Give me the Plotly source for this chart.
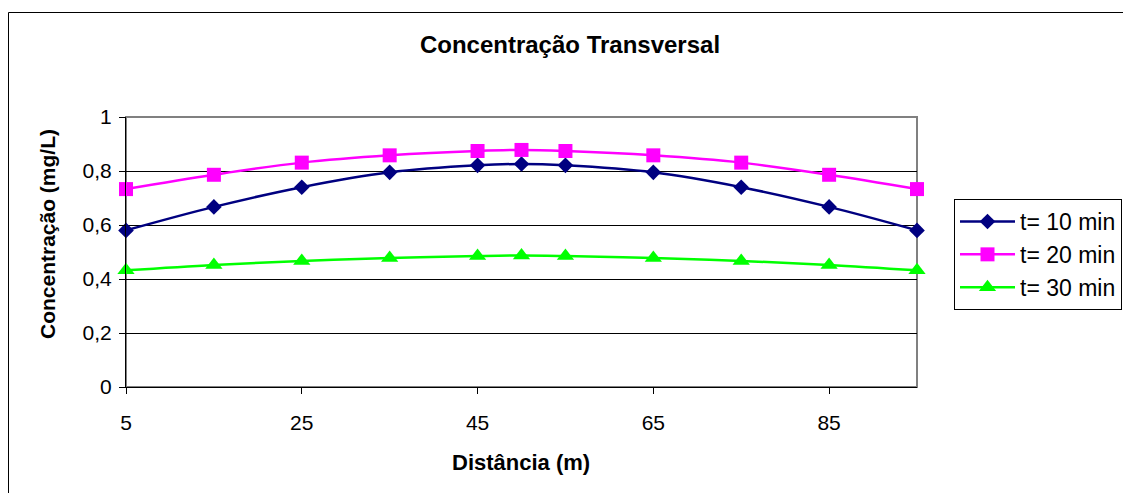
import plotly.graph_objects as go

# ---- data ----
distancia = [5, 15, 25, 35, 45, 50, 55, 65, 75, 85, 95]
t10 = [0.580, 0.667, 0.740, 0.795, 0.821, 0.826, 0.821, 0.795, 0.740, 0.667, 0.580]
t20 = [0.733, 0.786, 0.831, 0.858, 0.874, 0.878, 0.874, 0.858, 0.831, 0.786, 0.733]
t30 = [0.432, 0.452, 0.467, 0.478, 0.485, 0.487, 0.485, 0.478, 0.467, 0.452, 0.432]
series_names = ["t= 10 min", "t= 20 min", "t= 30 min"]
x_ticks = [5, 25, 45, 65, 85]

W, H = 1123, 493
L, R, T, B = 126, 206, 117, 106
pw, ph = W - L - R, H - T - B

def px_x(p):
    return (p - L) / pw

def px_y(p):
    return (H - B - p) / ph

FONT = "Liberation Sans, Arial, sans-serif"

fig = go.Figure()
styles = [
    dict(color="#000080", symbol="diamond", size=12),
    dict(color="#FF00FF", symbol="square", size=14),
    dict(color="#00FF00", symbol="triangle-up", size=15),
]
for name, ys, st, g in zip(series_names, [t10, t20, t30], styles, ["a", "b", "c"]):
    fig.add_trace(go.Scatter(
        x=distancia, y=ys, name=name, mode="lines+markers",
        line=dict(color=st["color"], width=2.5, shape="spline"),
        marker=dict(color=st["color"], symbol=st["symbol"], size=st["size"], line=dict(width=0)),
        cliponaxis=False, legendgroup=g,
    ))

fig.update_layout(
    width=W, height=H,
    margin=dict(l=L, r=R, t=T, b=B, autoexpand=False),
    paper_bgcolor="white", plot_bgcolor="white",
    separators=", ",
    font=dict(family=FONT, size=21, color="black"),
    title=dict(text="<b>Concentração Transversal</b>", font=dict(size=24, family=FONT, color="black"),
               x=px_x(570), xref="paper", xanchor="center",
               y=1 - 45 / H, yref="container", yanchor="middle"),
    showlegend=True,
    legend=dict(x=px_x(954), y=px_y(199), xanchor="left", yanchor="top",
                bordercolor="black", borderwidth=1, bgcolor="white",
                font=dict(size=23, family=FONT, color="black"),
                tracegroupgap=3, traceorder="normal", itemwidth=55),
    xaxis=dict(range=[5, 95], tickvals=x_ticks, showgrid=False, zeroline=False,
               showline=True, linecolor="black", linewidth=1,
               ticks="outside", ticklen=6, tickcolor="black", ticklabelstandoff=11,
               tickfont=dict(size=21)),
    yaxis=dict(range=[0, 1], dtick=0.2, tick0=0, showgrid=True, gridcolor="black", gridwidth=1,
               zeroline=False, showline=True, linecolor="black", linewidth=1,
               ticks="outside", ticklen=6, tickcolor="black", ticklabelstandoff=3,
               tickfont=dict(size=21)),
    annotations=[
        dict(text="<b>Concentração (mg/L)</b>", textangle=-90, x=px_x(47), y=px_y(234),
             xref="paper", yref="paper", showarrow=False, font=dict(size=21),
             xanchor="center", yanchor="middle"),
        dict(text="<b>Distância (m)</b>", x=px_x(521), y=px_y(462),
             xref="paper", yref="paper", showarrow=False, font=dict(size=22),
             xanchor="center", yanchor="middle"),
    ],
    shapes=[
        dict(type="rect", xref="paper", yref="paper", x0=0, x1=1, y0=0, y1=1,
             line=dict(color="#808080", width=2), layer="below"),
        dict(type="rect", xref="paper", yref="paper", x0=px_x(8.5), x1=px_x(1140),
             y0=px_y(510), y1=px_y(12.5), line=dict(color="black", width=1), layer="below"),
    ],
)

fig.write_html("out.html")
